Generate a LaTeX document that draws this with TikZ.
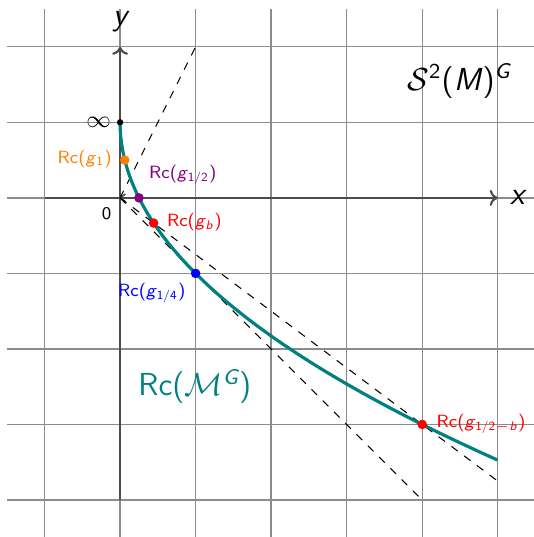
\documentclass[tikz,border=0pt]{standalone}
\usetikzlibrary{arrows.meta}
\definecolor{mypurple}{rgb}{0.5,0,0.5}
\definecolor{gridgray}{gray}{0.55}
\definecolor{axisgray}{gray}{0.3}
\tikzset{
  gridline/.style={gridgray, line width=0.5pt},
  axisline/.style={axisgray, line width=0.8pt, -{To[length=3pt,width=6pt]}},
  dashline/.style={black, dashed, line width=0.4pt, dash pattern=on 3pt off 3pt},
  curveline/.style={teal, line width=1.2pt},
  dotmark/.style={circle, fill=#1, inner sep=0pt, minimum size=3.6pt},
  small/.style={font=\sffamily\fontsize{6.7}{8}\selectfont, inner sep=1pt},
  big/.style={font=\sffamily\fontsize{12}{14}\selectfont, inner sep=0pt}
}
\begin{document}
\begin{tikzpicture}[x=1cm,y=1cm]
\useasboundingbox (-1.59,-4.49) rectangle (5.48,2.62);
\draw[gridline] (-1.5,-4.5) grid (5.5,2.5);
\coordinate (O) at (0,0);
\coordinate (xl) at (-1,0);
\coordinate (xr) at (5,0);
\coordinate (yb) at (0,-4);
\coordinate (yt) at (0,2);
\draw[axisline] (xl) -- (xr);
\draw[axisline] (yb) -- (yt);
\draw[axisgray, line width=0.6pt] (0.07,0.05) -- (O) -- (0.07,-0.05);
\node[big] (xlab) at (5.26,0) {\itshape x};
\node[big] (ylab) at (0,2.33) {\itshape y};
% dashed lines
\coordinate (d1) at (1,2);
\coordinate (d2) at (4,-4);
\coordinate (d3) at (5,-3.75);
\draw[dashline] (O) -- (d1);
\draw[dashline] (O) -- (d2);
\draw[dashline] (O) -- (d3);
% curve
\draw[curveline] plot[domain=0:2.23607, samples=80, smooth, variable=\u] ({\u*\u},{1-2*\u});
% points
\node[dotmark=black, minimum size=2.4pt] (inf) at (0,1) {};
\node[dotmark=orange] (g1) at (0.0625,0.5) {};
\node[dotmark=mypurple] (ghalf) at (0.25,0) {};
\node[dotmark=red] (gb) at (0.4444,-0.3333) {};
\node[dotmark=blue] (gq) at (1,-1) {};
\node[dotmark=red] (ghb) at (4,-3) {};
% labels
\node[small, anchor=east, font=\fontsize{9}{10}\selectfont] (inflab) at (-0.08,1) {$\infty$};
\node[small, text=orange, anchor=east] (g1lab) at (-0.07,0.52) {Rc(\textit{g}\textsubscript{1})};
\node[small, text=mypurple] (ghalflab) at (0.83,0.31) {Rc(\textit{g}\textsubscript{1/2})};
\node[small, text=red, anchor=west] (gblab) at (0.58,-0.32) {Rc(\textit{g}\textsubscript{\textit{b}})};
\node[small] (zero) at (-0.18,-0.21) {0};
\node[small, text=blue] (gqlab) at (0.42,-1.26) {Rc(\textit{g}\textsubscript{1/4})};
\node[small, text=red, anchor=west] (ghblab) at (4.15,-2.99) {Rc(\textit{g}\textsubscript{1/2$-$\textit{b}})};
\node[big, text=teal] (mg) at (0.99,-2.5) {Rc($\mathcal{M}$\textsuperscript{\itshape G})};
\node[big] (sm) at (4.49,1.55) {$\mathcal{S}$\textsuperscript{2}(\textit{M})\textsuperscript{\itshape G}};
\end{tikzpicture}
\end{document}
